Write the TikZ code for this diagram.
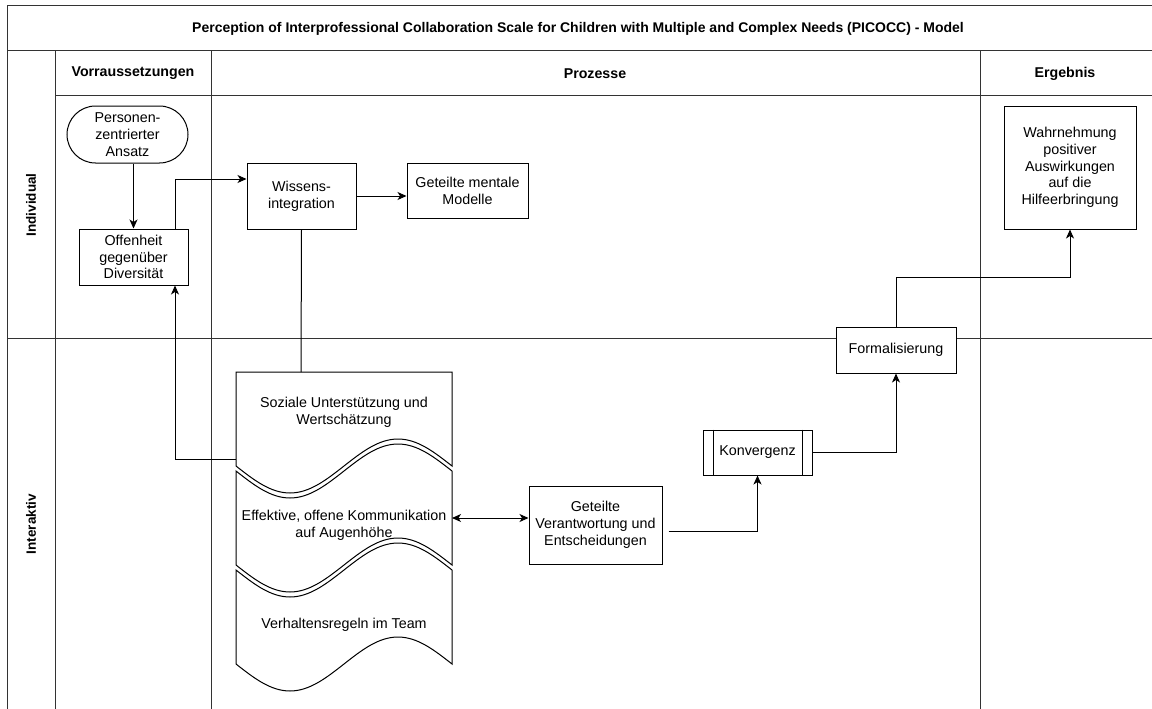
\documentclass[tikz,border=0pt]{standalone}
\usepackage{fontspec}
\setmainfont{Liberation Sans}
\usetikzlibrary{arrows.meta}
\begin{document}
\begin{tikzpicture}[x=1pt,y=-1pt,
  lane/.style={draw=black!80, line width=1pt},
  box/.style={draw, line width=1pt, align=center, inner sep=2pt,
    font=\fontsize{14.3}{16.8}\selectfont},
  txt/.style={align=center, font=\fontsize{14.3}{16.8}\selectfont},
  lbl/.style={font=\bfseries\fontsize{14.2}{16}\selectfont},
  lanelbl/.style={font=\bfseries\fontsize{13.5}{16}\selectfont, rotate=90},
  conn/.style={line width=1pt},
  tip/.tip={Stealth[length=9pt,width=8pt,inset=2.5pt]},
  arr/.style={conn, -tip},
  docshape/.style={draw, line width=1pt, fill=white}
]
\useasboundingbox (0,0) rectangle (1152,709);

% pool frame and swimlanes
\draw[lane] (7,709) -- (7,6) -- (1152,6);
\draw[lane] (7,51) -- (1152,51);
\draw[lane] (55,96) -- (1152,96);
\draw[lane] (7,338) -- (1152,338);
\draw[lane] (55,51) -- (55,709);
\draw[lane] (211,51) -- (211,709);
\draw[lane] (980,51) -- (980,709);

\node[font=\bfseries\fontsize{14}{16}\selectfont] (title) at (578,29)
  {Perception of Interprofessional Collaboration Scale for Children with Multiple and Complex Needs (PICOCC) - Model};
\node[lbl] (hvor) at (133,73.5) {Vorraussetzungen};
\node[lbl] (hpro) at (595,73.5) {Prozesse};
\node[lbl] (herg) at (1065,73.5) {Ergebnis};
\node[lanelbl] (lind) at (31,205) {Individual};
\node[lanelbl] (lint) at (31,524) {Interaktiv};

% document shapes with wavy edges
\draw[docshape] (236,372) -- (452,372) -- (452,466)
  sin (398,439) cos (344,466) sin (290,493) cos (236,466) -- cycle;
\draw[docshape] (236,471) sin (290,498) cos (344,471) sin (398,444) cos (452,471)
  -- (452,565) sin (398,538) cos (344,565) sin (290,592) cos (236,565) -- cycle;
\draw[docshape] (236,570) sin (290,597) cos (344,570) sin (398,543) cos (452,570)
  -- (452,664) sin (398,637) cos (344,664) sin (290,691) cos (236,664) -- cycle;

\node[txt] (soz) at (344,412) {Soziale Unterstützung und\\Wertschätzung};
\node[txt] (eff) at (344,525) {Effektive, offene Kommunikation\\auf Augenhöhe};
\node[txt] (ver) at (344,625) {Verhaltensregeln im Team};
\coordinate (sozN) at (301,372);
\coordinate (sozW) at (236,459);
\coordinate (effE) at (452,518);

% process steps
\node[box, rounded corners=28.5pt, minimum width=121pt, minimum height=57pt] (pers) at (127.5,134.5)
  {Personen-\\zentrierter\\Ansatz};
\node[box, minimum width=109pt, minimum height=56pt] (off) at (133.5,257)
  {Offenheit\\gegenüber\\Diversität};
\node[box, minimum width=109pt, minimum height=66pt] (wis) at (301.5,196)
  {Wissens-\\integration};
\node[box, minimum width=121pt, minimum height=55pt] (gmm) at (467.5,190.5)
  {Geteilte mentale\\Modelle};
\node[box, minimum width=133pt, minimum height=78pt] (gv) at (595.5,525)
  {Geteilte\\Verantwortung und\\Entscheidungen};
\node[box, minimum width=109pt, minimum height=45pt] (konv) at (757.5,452.5) {Konvergenz};
\draw[line width=1pt] ([xshift=11pt]konv.north west) -- ([xshift=11pt]konv.south west);
\draw[line width=1pt] ([xshift=-10pt]konv.north east) -- ([xshift=-10pt]konv.south east);
\node[box, minimum width=120pt, minimum height=46pt, fill=white] (form) at (896,350) {Formalisierung};
\node[box, minimum width=132pt, minimum height=123pt] (wahr) at (1070,167.5)
  {Wahrnehmung\\positiver\\Auswirkungen\\auf die\\Hilfeerbringung};

% connectors
\draw[arr] (pers.south -| off.north) -- (off.north);
\draw[arr] ([xshift=41.5pt]off.north) |- ([yshift=17pt]wis.west);
\draw[arr] (wis.east) -- (wis.east -| gmm.west);
\draw[conn] (wis.south) -- (sozN);
\draw[arr] (sozW) -| ([xshift=41.5pt]off.south);
\draw[conn, tip-tip] (effE) -- (effE -| gv.west);
\draw[arr] ([xshift=6pt,yshift=-6pt]gv.east) -| (konv.south);
\draw[arr] (konv.east) -| (form.south);
\draw[arr] (form.north) -- ++(0,-49) -| (wahr.south);
\end{tikzpicture}
\end{document}
